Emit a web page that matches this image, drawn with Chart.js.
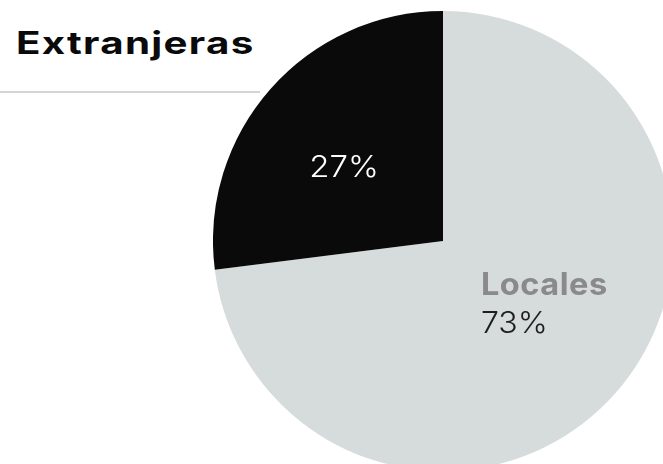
<!DOCTYPE html>
<html>
<head>
<meta charset="utf-8">
<script src="https://cdn.jsdelivr.net/npm/chart.js@4"></script>
<style>
  html, body { margin: 0; padding: 0; background: #fff; }
  body { width: 663px; height: 464px; overflow: hidden; position: relative; font-family: Inter, 'Noto Sans', sans-serif; }
  #title { position: absolute; left: 16px; top: 23px; font-size: 31px; font-weight: 700; color: #0a0a0a; line-height: 40px;
           letter-spacing: 1px; transform: scaleX(1.3); transform-origin: left top; white-space: nowrap; }
  #rule { position: absolute; left: 0; top: 91px; width: 260px; height: 2px; background: #d4d4d4; }
  #wrap { position: absolute; left: 213px; top: 11px; width: 460px; height: 460px; }
</style>
</head>
<body>
<div id="title">Extranjeras</div>
<div id="rule"></div>
<div id="wrap"><canvas id="pie" width="460" height="460"></canvas></div>
<script>
// ─── DATA ─────────────────────────────────────────────────────────────────────
const categories = ['Locales', 'Extranjeras'];
const shares     = [73, 27];
const sliceColors = ['#d5dcdb', '#0a0a0a'];

// ─── LABELS ON SLICES ─────────────────────────────────────────────────────────
const FONT = 'Inter, "Noto Sans", sans-serif';

// draw text stretched horizontally (the original face is wider than Inter)
function wideText(ctx, txt, x, y, sx, align) {
  ctx.save();
  const w = ctx.measureText(txt).width * sx;
  const left = align === 'center' ? x - w / 2 : x;
  ctx.translate(left, y);
  ctx.scale(sx, 1);
  ctx.textAlign = 'left';
  ctx.fillText(txt, 0, 0);
  ctx.restore();
}

const sliceLabels = {
  id: 'sliceLabels',
  afterDatasetsDraw(chart) {
    const { ctx } = chart;
    const meta = chart.getDatasetMeta(0);
    meta.data.forEach((arc, i) => {
      const mid = (arc.startAngle + arc.endAngle) / 2;
      const r = arc.outerRadius * 0.55;
      const x = arc.x + Math.cos(mid) * r;
      const y = arc.y + Math.sin(mid) * r;
      ctx.save();
      ctx.textBaseline = 'alphabetic';
      if (i === 0) {
        // name over value, left aligned
        ctx.font = '700 31px ' + FONT;
        ctx.fillStyle = '#8a8a8a';
        ctx.letterSpacing = '0.5px';
        wideText(ctx, categories[i], x - 57, y - 30, 1.05, 'left');
        ctx.font = '300 30px ' + FONT;
        ctx.fillStyle = '#1e1e1e';
        ctx.letterSpacing = '0px';
        wideText(ctx, shares[i] + '%', x - 57, y + 8, 1.07, 'left');
      } else {
        ctx.font = '300 30px ' + FONT;
        ctx.fillStyle = '#ffffff';
        ctx.letterSpacing = '0px';
        wideText(ctx, shares[i] + '%', x - 4, y + 20, 1.1, 'center');
      }
      ctx.restore();
    });
  },
};

new Chart(document.getElementById('pie'), {
  type: 'pie',
  data: {
    labels: categories,
    datasets: [{
      data: shares,
      backgroundColor: sliceColors,
      borderWidth: 0,
    }],
  },
  options: {
    responsive: false,
    animation: false,
    layout: { padding: 0 },
    plugins: { legend: { display: false }, tooltip: { enabled: false } },
  },
  plugins: [sliceLabels],
});
</script>
</body>
</html>
